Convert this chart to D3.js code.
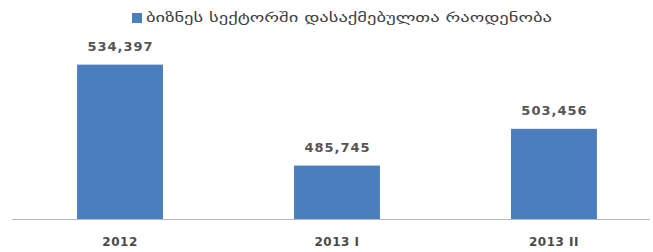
<!DOCTYPE html>
<html><head><meta charset="utf-8">
<script src="https://cdn.jsdelivr.net/npm/d3@7/dist/d3.min.js"></script>
<style>body{margin:0;background:#fff}</style>
</head><body>
<script>
const categories = ["2012", "2013 I", "2013 II"];
const values = [534397, 485745, 503456];
const valueLabels = ["534,397", "485,745", "503,456"];
const seriesName = "ბიზნეს სექტორში დასაქმებულთა რაოდენობა";

const W = 653, H = 252;
const svg = d3.select("body").append("svg").attr("width", W).attr("height", H);

const x = d3.scaleBand().domain(categories).range([12, 662]).paddingInner(0.604).paddingOuter(0.3);
const y = d3.scaleLinear().domain([460000, 540000]).range([219, 53]);

svg.selectAll("rect.bar").data(values).join("rect")
  .attr("class", "bar")
  .attr("x", (d, i) => x(categories[i]))
  .attr("width", x.bandwidth())
  .attr("y", d => y(d))
  .attr("height", d => y(460000) - y(d))
  .attr("fill", "#4a7ebf");

svg.append("line").attr("x1", 12).attr("x2", 650).attr("y1", 219.5).attr("y2", 219.5)
  .attr("stroke", "#b8b8b8").attr("stroke-width", 1);

svg.selectAll("text.val").data(values).join("text")
  .attr("class", "val")
  .attr("x", (d, i) => x(categories[i]) + x.bandwidth() / 2 + 0.5)
  .attr("y", d => y(d) - 14)
  .attr("text-anchor", "middle")
  .attr("font-family", "DejaVu Sans, sans-serif")
  .attr("font-size", 13).attr("font-weight", "bold")
  .attr("letter-spacing", 1)
  .attr("fill", "#555")
  .text((d, i) => valueLabels[i]);

const xAxis = d3.axisBottom(x).tickSize(0).tickPadding(0);
const gx = svg.append("g").attr("transform", "translate(0,219)").call(xAxis);
gx.select(".domain").remove();
gx.selectAll("text").attr("y", 27).attr("dy", 0)
  .attr("font-family", "DejaVu Sans, sans-serif")
  .attr("font-size", 12).attr("font-weight", "bold")
  .attr("letter-spacing", 0.5)
  .attr("fill", "#4a4a4a");

svg.append("rect").attr("x", 132).attr("y", 13).attr("width", 10).attr("height", 10).attr("fill", "#4a7ebf");
svg.append("text").attr("x", 146).attr("y", 22)
  .attr("font-family", "DejaVu Sans, sans-serif")
  .attr("font-size", 13).attr("fill", "#404040")
  .attr("textLength", 406).attr("lengthAdjust", "spacingAndGlyphs")
  .text(seriesName);
</script>
</body></html>
